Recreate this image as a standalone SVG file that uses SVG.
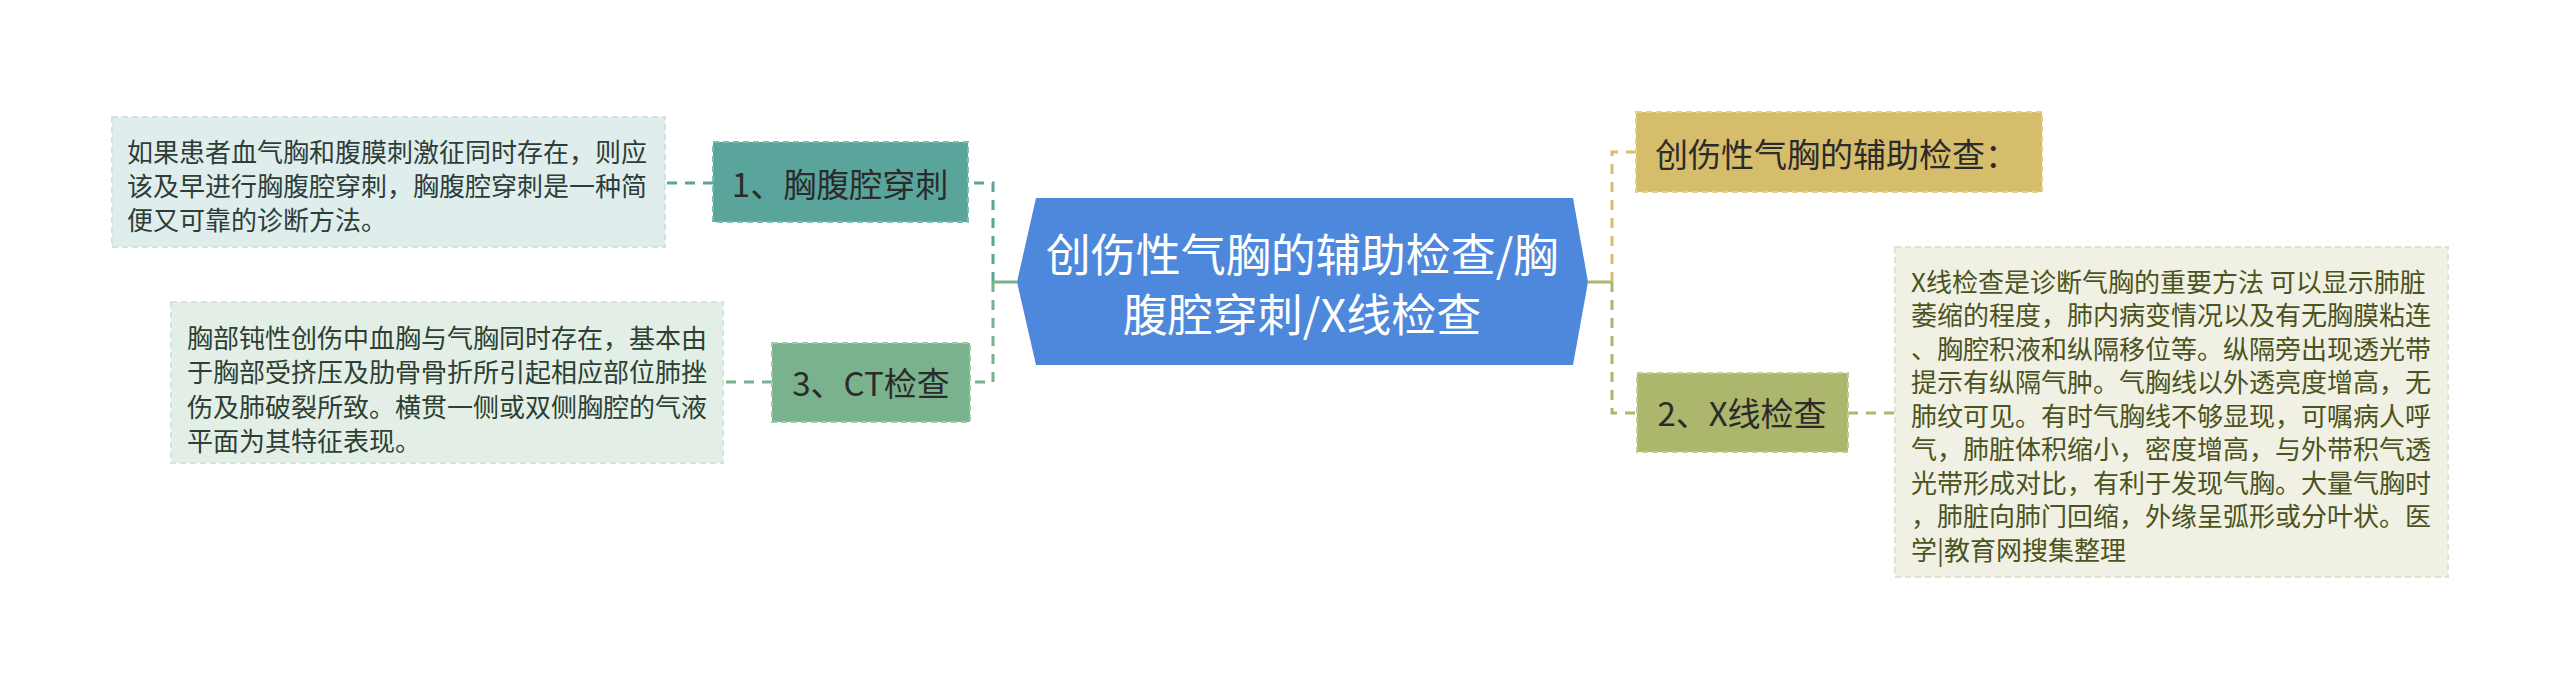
<svg xmlns="http://www.w3.org/2000/svg" width="2560" height="690" viewBox="0 0 2560 690">
<style>
text{font-family:"Noto Sans CJK SC","Noto Sans",sans-serif;dominant-baseline:central}
.desc{font-size:26px}
.node{font-size:33px;fill:#2b2b2b}
.conn{fill:none;stroke-width:3;stroke-dasharray:10 8}
.solid{fill:none;stroke-width:3}
</style>
<rect width="2560" height="690" fill="#ffffff"/>
<g id="connectors">
<path class="conn" stroke="#5aa59b" d="M993,282 V183 H968"/>
<path class="conn" stroke="#79b28d" d="M993,282 V382 H970"/>
<path class="solid" stroke="#79b28d" d="M1017,282 H993"/>
<path class="conn" stroke="#5aa59b" d="M713,183 H665"/>
<path class="conn" stroke="#79b28d" d="M772,382 H723"/>
<path class="solid" stroke="#acb66c" d="M1588,282 H1612"/>
<path class="conn" stroke="#d6bd6c" d="M1612,282 V152 H1636"/>
<path class="conn" stroke="#acb66c" d="M1612,282 V413 H1637"/>
<path class="conn" stroke="#acb66c" d="M1848,413 H1895"/>
</g>
<g id="center">
<polygon points="1017,282 1036,198 1573,198 1588,282 1573,365 1036,365" fill="#4e88dc"/>
<text x="1302" y="252" font-size="45" fill="#ffffff" text-anchor="middle">创伤性气胸的辅助检查/胸</text>
<text x="1302" y="312" font-size="45" fill="#ffffff" text-anchor="middle">腹腔穿刺/X线检查</text>
</g>
<g id="node1">
<rect x="713" y="142" width="255" height="80" fill="#5aa59b" stroke="#7fbdb4" stroke-width="2" stroke-dasharray="6 4"/>
<text class="node" x="840" y="183" text-anchor="middle">1、胸腹腔穿刺</text>
</g>
<g id="desc1">
<rect x="112" y="117" width="553" height="130" fill="#dfeeec" stroke="#cfe3e0" stroke-width="2" stroke-dasharray="6 4"/>
<text class="desc" fill="#2e3d3a" x="127" y="150">如果患者血气胸和腹膜刺激征同时存在，则应</text>
<text class="desc" fill="#2e3d3a" x="127" y="184">该及早进行胸腹腔穿刺，胸腹腔穿刺是一种简</text>
<text class="desc" fill="#2e3d3a" x="127" y="218">便又可靠的诊断方法。</text>
</g>
<g id="node3">
<rect x="772" y="343" width="198" height="79" fill="#79b28d" stroke="#9ccaa9" stroke-width="2" stroke-dasharray="6 4"/>
<text class="node" x="871" y="382" text-anchor="middle">3、CT检查</text>
</g>
<g id="desc3">
<rect x="171" y="302" width="552" height="161" fill="#e3efe6" stroke="#d2e5d8" stroke-width="2" stroke-dasharray="6 4"/>
<text class="desc" fill="#2d4033" x="187" y="336">胸部钝性创伤中血胸与气胸同时存在，基本由</text>
<text class="desc" fill="#2d4033" x="187" y="370.5">于胸部受挤压及肋骨骨折所引起相应部位肺挫</text>
<text class="desc" fill="#2d4033" x="187" y="405">伤及肺破裂所致。横贯一侧或双侧胸腔的气液</text>
<text class="desc" fill="#2d4033" x="187" y="439.5">平面为其特征表现。</text>
</g>
<g id="gold">
<rect x="1636" y="112" width="406" height="80" fill="#d6bd6c" stroke="#e3cf8e" stroke-width="2" stroke-dasharray="6 4"/>
<text class="node" x="1655" y="153">创伤性气胸的辅助检查：</text>
</g>
<g id="node2">
<rect x="1637" y="373" width="211" height="79" fill="#acb66c" stroke="#c3cb8e" stroke-width="2" stroke-dasharray="6 4"/>
<text class="node" x="1742" y="412" text-anchor="middle">2、X线检查</text>
</g>
<g id="desc2">
<rect x="1895" y="247" width="553" height="330" fill="#f0f0e4" stroke="#e2e3cf" stroke-width="2" stroke-dasharray="6 4"/>
<text class="desc" fill="#4b5320" x="1911" y="280">X线检查是诊断气胸的重要方法 可以显示肺脏</text>
<text class="desc" fill="#4b5320" x="1911" y="313.5">萎缩的程度，肺内病变情况以及有无胸膜粘连</text>
<text class="desc" fill="#4b5320" x="1911" y="347">、胸腔积液和纵隔移位等。纵隔旁出现透光带</text>
<text class="desc" fill="#4b5320" x="1911" y="380.5">提示有纵隔气肿。气胸线以外透亮度增高，无</text>
<text class="desc" fill="#4b5320" x="1911" y="414">肺纹可见。有时气胸线不够显现，可嘱病人呼</text>
<text class="desc" fill="#4b5320" x="1911" y="447.5">气，肺脏体积缩小，密度增高，与外带积气透</text>
<text class="desc" fill="#4b5320" x="1911" y="481">光带形成对比，有利于发现气胸。大量气胸时</text>
<text class="desc" fill="#4b5320" x="1911" y="514.5">，肺脏向肺门回缩，外缘呈弧形或分叶状。医</text>
<text class="desc" fill="#4b5320" x="1911" y="548">学|教育网搜集整理</text>
</g>
</svg>
